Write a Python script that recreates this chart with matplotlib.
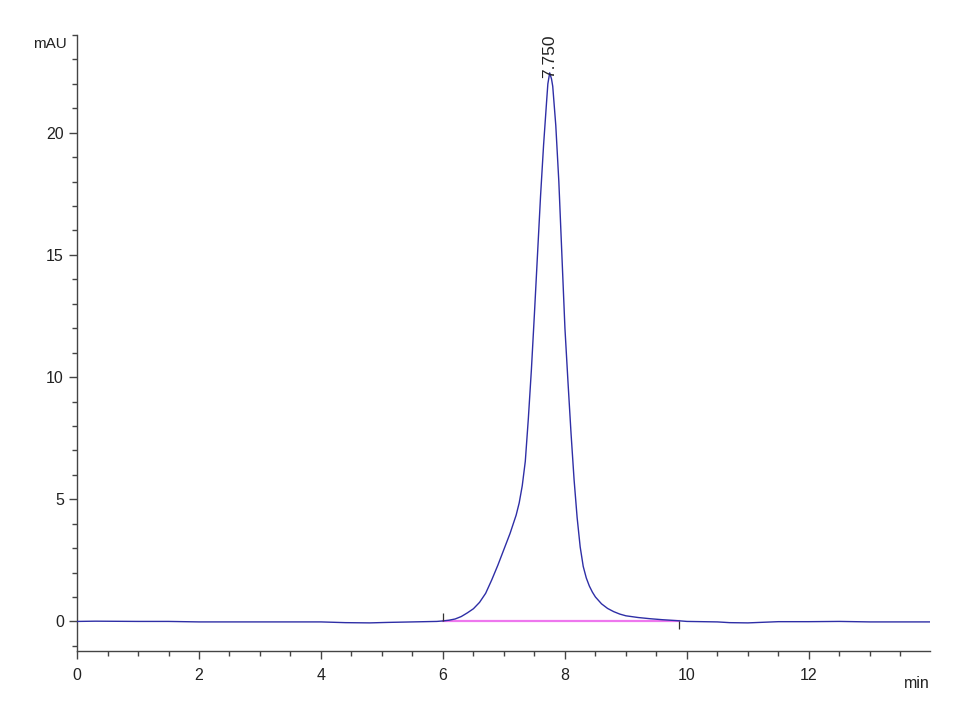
import matplotlib
matplotlib.use("Agg")
import matplotlib.pyplot as plt
from matplotlib.ticker import MultipleLocator

plt.rcParams['font.family'] = ['Liberation Sans', 'DejaVu Sans']

# Chromatogram trace (min, mAU)
time_min = [0.0, 0.3, 1.0, 1.5, 2.0, 3.0, 4.0, 4.4, 4.8, 5.1, 5.5, 5.9,
            6.0, 6.1, 6.2, 6.3, 6.4, 6.5, 6.6, 6.7, 6.8, 6.9, 7.0, 7.1, 7.2, 7.25,
            7.3, 7.35, 7.4, 7.45, 7.5, 7.55, 7.6, 7.65, 7.7, 7.72, 7.75, 7.78,
            7.8, 7.85, 7.9, 7.95, 8.0, 8.05, 8.1, 8.15, 8.2, 8.25, 8.3, 8.35,
            8.4, 8.45, 8.5, 8.6, 8.7, 8.8, 8.9, 9.0, 9.2, 9.4, 9.6, 9.85,
            10.0, 10.5, 10.7, 11.0, 11.2, 11.5, 12.0, 12.5, 13.0, 13.5, 13.98]
signal_mau = [0.0, 0.01, 0.0, 0.0, -0.02, -0.02, -0.02, -0.05, -0.06, -0.04, -0.02, 0.0,
              0.02, 0.05, 0.10, 0.20, 0.35, 0.52, 0.78, 1.15, 1.70, 2.30, 2.95, 3.60, 4.35, 4.85,
              5.55, 6.55, 8.30, 10.3, 12.6, 15.0, 17.4, 19.5, 21.3, 22.0, 22.45, 22.2,
              21.9, 20.3, 18.0, 15.0, 12.0, 9.8, 7.7, 5.8, 4.25, 3.05, 2.25, 1.78,
              1.45, 1.20, 1.00, 0.72, 0.53, 0.40, 0.30, 0.23, 0.16, 0.11, 0.07, 0.03,
              0.0, -0.02, -0.05, -0.06, -0.04, -0.01, -0.01, 0.0, -0.02, -0.02, -0.02]

# Integration baseline of the peak
baseline_t = [6.0, 9.87]
baseline_v = [0.03, 0.03]

peak_rt = 7.750
peak_height = 22.45

fig = plt.figure(figsize=(9.7, 7.11), dpi=100)
ax = fig.add_axes([0.0794, 0.0844, 0.879, 0.8664])

ax.plot(time_min, signal_mau, color='#2e2ea6', lw=1.0, zorder=3)
ax.plot(baseline_t, baseline_v, color='#ee77ee', lw=1.6, zorder=2)
# integration start / end event marks
ax.plot([baseline_t[0]], [baseline_v[0]], marker=2, color='#333333', ms=6, mew=0.9, zorder=4)
ax.plot([baseline_t[1]], [baseline_v[1]], marker=3, color='#333333', ms=6, mew=0.9, zorder=4)

ax.text(peak_rt, peak_height - 0.2, f"{peak_rt:.3f}", rotation=90, ha='center', va='bottom',
        fontsize=12.5, color='#222222', zorder=5)

ax.set_xlim(0, 13.98)
ax.set_ylim(-1.21, 24.0)

ax.xaxis.set_major_locator(MultipleLocator(2))
ax.xaxis.set_minor_locator(MultipleLocator(0.5))
ax.yaxis.set_major_locator(MultipleLocator(5))
ax.yaxis.set_minor_locator(MultipleLocator(1))

for s in ['top', 'right']:
    ax.spines[s].set_visible(False)
for s in ['left', 'bottom']:
    ax.spines[s].set_color('#444444')
    ax.spines[s].set_linewidth(1.0)

ax.tick_params(axis='both', which='major', direction='out', length=6, width=1.0,
               colors='#444444', labelcolor='#222222', labelsize=11.5)
ax.tick_params(axis='both', which='minor', direction='out', length=3.5, width=1.0,
               colors='#444444')
ax.tick_params(axis='x', which='major', pad=6)

ax.text(-0.012, 0.985, "mAU", transform=ax.transAxes, ha='right', va='center',
        fontsize=11, color='#222222')
ax.text(1.0, -0.041, "min", transform=ax.transAxes, ha='right', va='top',
        fontsize=11.5, color='#222222')

fig.savefig("out.png", dpi=100)
